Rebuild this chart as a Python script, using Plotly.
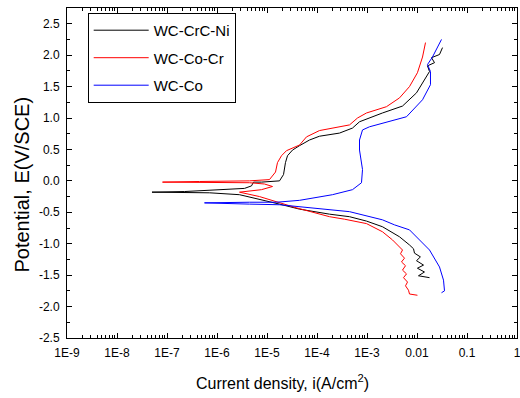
import plotly.graph_objects as go

# ---- data (current density in A/cm^2, potential in V/SCE) ----
crc_ni_i = [1.78e-2, 1.07e-2, 1.41e-2, 1.02e-2, 1.35e-2, 9.77e-3, 1.17e-2, 8.91e-3, 8.51e-3, 7.08e-3,
            4.47e-3, 2.04e-3, 9.77e-4, 4.47e-4, 1.78e-4, 4.47e-5, 1.78e-5, 7.08e-6, 2.82e-6, 7.08e-7,
            1.78e-7, 5.01e-8, 2.24e-7, 1.12e-6, 3.55e-6, 4.90e-6, 5.37e-6, 7.76e-6, 1.78e-5, 2.14e-5,
            2.34e-5, 2.57e-5, 3.24e-5, 4.47e-5, 7.08e-5, 1.12e-4, 2.82e-4, 5.13e-4, 7.08e-4, 2.04e-3,
            5.13e-3, 9.77e-3, 1.41e-2, 1.78e-2, 1.62e-2, 2.24e-2, 1.95e-2, 2.82e-2, 3.24e-2]
crc_ni_E = [-1.54, -1.51, -1.45, -1.39, -1.34, -1.27, -1.21, -1.15, -1.08, -1.02,
            -0.89, -0.73, -0.64, -0.57, -0.53, -0.45, -0.37, -0.29, -0.22, -0.19,
            -0.18, -0.18, -0.17, -0.14, -0.12, -0.08, -0.02, -0.02, 0.00, 0.10,
            0.29, 0.40, 0.49, 0.56, 0.65, 0.71, 0.76, 0.84, 0.94, 1.08,
            1.19, 1.40, 1.61, 1.74, 1.83, 1.88, 1.96, 2.01, 2.12]

co_cr_i = [1.02e-2, 7.08e-3, 6.76e-3, 5.89e-3, 6.46e-3, 5.37e-3, 6.17e-3, 5.13e-3, 5.89e-3, 4.90e-3,
           5.62e-3, 4.68e-3, 5.13e-3, 4.27e-3, 3.72e-3, 3.24e-3, 2.04e-3, 9.77e-4, 3.55e-4, 1.78e-4,
           3.89e-5, 1.78e-5, 7.08e-6, 2.82e-6, 7.76e-6, 1.29e-5, 8.91e-6, 4.47e-6, 4.47e-7, 8.13e-8,
           4.47e-7, 4.47e-6, 1.12e-5, 1.48e-5, 1.62e-5, 1.95e-5, 2.45e-5, 4.47e-5, 6.17e-5, 1.12e-4,
           4.47e-4, 6.46e-4, 9.77e-4, 2.45e-3, 4.47e-3, 7.08e-3, 1.02e-2, 1.29e-2, 1.48e-2]
co_cr_E = [-1.82, -1.80, -1.74, -1.67, -1.61, -1.54, -1.48, -1.42, -1.35, -1.29,
           -1.23, -1.16, -1.10, -1.04, -0.99, -0.94, -0.81, -0.68, -0.61, -0.57,
           -0.43, -0.35, -0.25, -0.18, -0.14, -0.09, -0.05, -0.03, -0.03, -0.02,
           -0.01, 0.00, 0.02, 0.14, 0.29, 0.40, 0.48, 0.57, 0.70, 0.80,
           0.89, 1.00, 1.08, 1.18, 1.32, 1.50, 1.72, 1.97, 2.20]

co_i = [3.09e-2, 3.55e-2, 3.39e-2, 2.82e-2, 1.78e-2, 1.12e-2, 7.08e-3, 3.55e-3, 2.04e-3, 4.47e-4,
        1.78e-4, 4.47e-5, 1.78e-5, 4.47e-6, 5.62e-7, 4.47e-6, 1.55e-5, 4.47e-5, 2.04e-4, 5.13e-4,
        7.76e-4, 8.13e-4, 7.08e-4, 7.08e-4, 8.13e-4, 1.12e-3, 2.04e-3, 6.17e-3, 1.29e-2, 1.86e-2,
        1.86e-2, 1.62e-2, 2.04e-2, 3.09e-2]
co_E = [-1.78, -1.75, -1.58, -1.37, -1.10, -0.94, -0.78, -0.70, -0.62, -0.49,
        -0.46, -0.41, -0.38, -0.37, -0.35, -0.34, -0.34, -0.31, -0.22, -0.14,
        -0.03, 0.18, 0.49, 0.65, 0.81, 0.86, 0.92, 1.02, 1.29, 1.53,
        1.74, 1.85, 1.97, 2.25]

series_names = ["WC-CrC-Ni", "WC-Co-Cr", "WC-Co"]
series_colors = ["#000000", "#ff0000", "#0000ff"]

x_tickvals = [1e-9, 1e-8, 1e-7, 1e-6, 1e-5, 1e-4, 1e-3, 1e-2, 1e-1, 1]
x_ticktext = ["1E-9", "1E-8", "1E-7", "1E-6", "1E-5", "1E-4", "1E-3", "0.01", "0.1", "1"]
y_tickvals = [2.5, 2.0, 1.5, 1.0, 0.5, 0.0, -0.5, -1.0, -1.5, -2.0, -2.5]
y_ticktext = ["2.5", "2.0", "1.5", "1.0", "0.5", "0.0", "-0.5", "-1.0", "-1.5", "-2.0", "-2.5"]
x_title = "Current density, i(A/cm<sup>2</sup>)"
y_title = "Potential, E(V/SCE)"

FONT = "Liberation Sans, Arial, sans-serif"

fig = go.Figure()
for k, (xs, ys) in enumerate([(crc_ni_i, crc_ni_E), (co_cr_i, co_cr_E), (co_i, co_E)]):
    fig.add_trace(go.Scatter(x=xs, y=ys, mode="lines", name=series_names[k],
                             legendgroup=series_names[k],
                             line=dict(color=series_colors[k], width=1)))

x_minor = [m * 10.0 ** d for d in range(-9, 0) for m in range(2, 10)]
y_minor = [v / 4 for v in range(-10, 11)]

axis_common = dict(showline=True, linecolor="black", linewidth=1, mirror="ticks",
                   ticks="inside", tickcolor="black", tickwidth=1, ticklen=5,
                   showgrid=False, zeroline=False, automargin=False,
                   ticklabeloverflow="allow",
                   tickfont=dict(family=FONT, size=12, color="black"))

fig.update_xaxes(type="log", range=[-9, 0], autorange=False, tickmode="array",
                 tickvals=x_tickvals, ticktext=x_ticktext, ticklabelstandoff=4,
                 minor=dict(tickmode="array", tickvals=x_minor, ticks="inside", ticklen=3,
                            tickcolor="black", showgrid=False),
                 **axis_common)
fig.update_yaxes(range=[-2.5, 2.75], autorange=False, tickmode="array",
                 tickvals=y_tickvals, ticktext=y_ticktext, ticklabelstandoff=4,
                 minor=dict(tickmode="array", tickvals=y_minor, ticks="inside", ticklen=3,
                            tickcolor="black", showgrid=False),
                 **axis_common)

fig.add_annotation(text=x_title, xref="paper", yref="paper", x=0.479, y=-0.1325,
                   xanchor="center", yanchor="middle", showarrow=False,
                   font=dict(family=FONT, size=16, color="black"))
fig.add_annotation(text=y_title, xref="paper", yref="paper", x=-0.10, y=0.465,
                   xanchor="center", yanchor="middle", showarrow=False, textangle=-90,
                   font=dict(family=FONT, size=20, color="black"))

fig.update_layout(
    width=520, height=398,
    margin=dict(l=67, r=3, t=8, b=60, autoexpand=False),
    paper_bgcolor="white", plot_bgcolor="white",
    font=dict(family=FONT, color="black"),
    showlegend=True,
    legend=dict(x=0.046, y=0.985, xanchor="left", yanchor="top",
                bgcolor="white", bordercolor="black", borderwidth=1,
                font=dict(family=FONT, size=15, color="black"),
                tracegroupgap=5, itemwidth=55),
)

fig.write_html("out.html", config={"displayModeBar": False},
               post_script="document.body.style.margin='0';")
